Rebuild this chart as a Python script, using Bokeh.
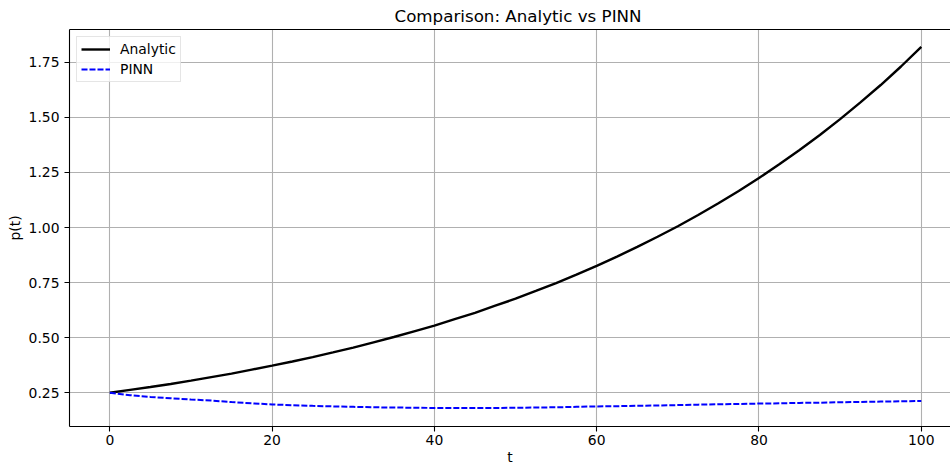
from bokeh.plotting import figure
from bokeh.models import Range1d, FixedTicker, PrintfTickFormatter, Legend, LegendItem, LinearAxis
from bokeh.embed import file_html
from bokeh.resources import INLINE

# Data
t_vals = [0, 2.5, 5, 7.5, 10, 12.5, 15, 17.5, 20, 22.5, 25, 27.5, 30, 32.5, 35, 37.5, 40,
          42.5, 45, 47.5, 50, 52.5, 55, 57.5, 60, 62.5, 65, 67.5, 70, 72.5, 75, 77.5, 80,
          82.5, 85, 87.5, 90, 92.5, 95, 97.5, 100]
analytic = [0.250, 0.263, 0.276, 0.290, 0.305, 0.321, 0.337, 0.355, 0.373, 0.392, 0.412,
            0.433, 0.455, 0.479, 0.503, 0.529, 0.555, 0.584, 0.613, 0.645, 0.677, 0.712,
            0.748, 0.786, 0.826, 0.868, 0.912, 0.958, 1.006, 1.057, 1.110, 1.166, 1.225,
            1.287, 1.352, 1.420, 1.492, 1.568, 1.647, 1.731, 1.820]
pinn = [0.250, 0.239, 0.231, 0.225, 0.2195, 0.2145, 0.2075, 0.202, 0.197, 0.1935, 0.1905,
        0.188, 0.186, 0.184, 0.183, 0.182, 0.181, 0.181, 0.181, 0.181, 0.182, 0.183,
        0.184, 0.186, 0.188, 0.189, 0.191, 0.192, 0.194, 0.196, 0.198, 0.199, 0.201,
        0.202, 0.204, 0.205, 0.207, 0.208, 0.210, 0.211, 0.213]
x_ticks = [0, 20, 40, 60, 80, 100]
y_ticks = [0.25, 0.50, 0.75, 1.00, 1.25, 1.50, 1.75]
x_label = "t"
y_label = "p(t)"
title = "Comparison: Analytic vs PINN"

FONT = "DejaVu Sans"

p = figure(width=950, height=469, output_backend="svg", toolbar_location=None,
           x_range=Range1d(-4.97, 103.6), y_range=Range1d(0.0968, 1.899),
           min_border_left=69, min_border_right=0, min_border_top=29, min_border_bottom=43)

p.title.text = title
p.title.align = "left"
p.title.offset = 325
p.title.text_font = FONT
p.title.text_font_size = "16.7px"
p.title.text_font_style = "normal"
p.title.text_color = "black"
p.title.standoff = 7

p.background_fill_color = "white"
p.border_fill_color = "white"
p.outline_line_color = None

xb = p.below[0]
yl = p.left[0]

for ax in (xb, yl):
    ax.major_label_text_font = FONT
    ax.major_label_text_font_size = "13.9px"
    ax.major_label_text_color = "black"
    ax.axis_label_text_font = FONT
    ax.axis_label_text_font_size = "13.9px"
    ax.axis_label_text_font_style = "normal"
    ax.axis_label_text_color = "black"
    ax.axis_line_color = "black"
    ax.axis_line_width = 1.1
    ax.major_tick_line_color = "black"
    ax.major_tick_line_width = 1.1
    ax.major_tick_out = 5
    ax.major_tick_in = 0
    ax.minor_tick_line_color = None

xb.axis_label = x_label
yl.axis_label = y_label
xb.major_label_standoff = 3
xb.axis_label_standoff = 1
yl.major_label_standoff = 5
yl.axis_label_standoff = 3
xb.ticker = FixedTicker(ticks=x_ticks)
yl.ticker = FixedTicker(ticks=y_ticks)
yl.formatter = PrintfTickFormatter(format="%.2f")

p.xgrid.ticker = FixedTicker(ticks=x_ticks)
p.ygrid.ticker = FixedTicker(ticks=y_ticks)
p.grid.grid_line_color = "#b0b0b0"
p.grid.grid_line_width = 1.1

# top spine (no ticks, no labels)
top = LinearAxis(ticker=FixedTicker(ticks=[]), major_label_text_font_size="0px",
                 major_label_standoff=0, major_tick_out=0, major_tick_in=0,
                 axis_line_color="black", axis_line_width=1.1,
                 major_tick_line_color=None, minor_tick_line_color=None)
p.add_layout(top, "above")

r1 = p.line(t_vals, analytic, line_color="black", line_width=2.4)
r2 = p.line(t_vals, pinn, line_color="#0000ff", line_width=2.0, line_dash="6 2")

legend = Legend(items=[LegendItem(label="Analytic", renderers=[r1]),
                       LegendItem(label="PINN", renderers=[r2])],
                location="top_left")
legend.margin = 7
legend.padding = 4
legend.spacing = 4
legend.glyph_width = 29
legend.glyph_height = 16
legend.label_height = 16
legend.label_standoff = 10
legend.label_text_font = FONT
legend.label_text_font_size = "13.9px"
legend.label_text_color = "black"
legend.border_line_color = "#cccccc"
legend.border_line_width = 1
legend.background_fill_color = "white"
legend.background_fill_alpha = 0.8
p.add_layout(legend)

with open("out.html", "w") as f:
    f.write(file_html(p, INLINE))
